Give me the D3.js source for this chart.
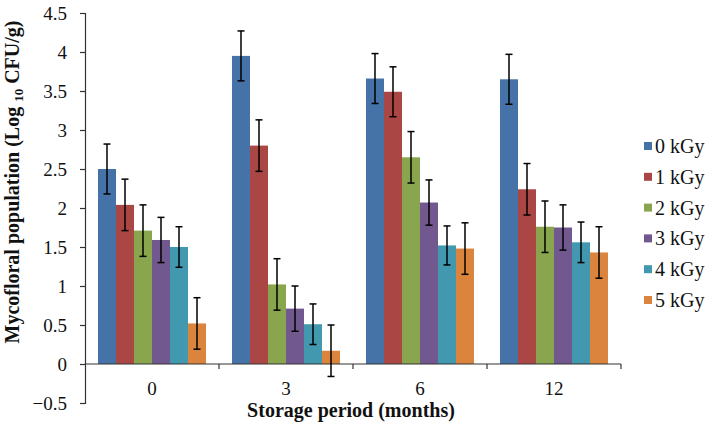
<!DOCTYPE html>
<html>
<head>
<meta charset="utf-8">
<script src="https://cdn.jsdelivr.net/npm/d3@7"></script>
<style>
  html, body { margin: 0; padding: 0; background: #fff; }
  svg { display: block; }
  svg text { font-family: "Liberation Serif", "Times New Roman", serif; }
</style>
</head>
<body>
<svg id="chart" width="709" height="427"></svg>
<script>
const categories = ["0", "3", "6", "12"];
const seriesNames = ["0 kGy", "1 kGy", "2 kGy", "3 kGy", "4 kGy", "5 kGy"];
const seriesColors = ["#4572A7", "#AA4643", "#89A54E", "#71588F", "#4198AF", "#DB843D"];
// values[series][category]
const values = [
  [2.50, 3.95, 3.66, 3.65],
  [2.04, 2.80, 3.49, 2.24],
  [1.71, 1.02, 2.65, 1.76],
  [1.59, 0.71, 2.07, 1.75],
  [1.50, 0.51, 1.52, 1.56],
  [0.52, 0.17, 1.48, 1.43]
];
const errors = [
  [0.32, 0.32, 0.32, 0.32],
  [0.33, 0.33, 0.32, 0.33],
  [0.33, 0.33, 0.33, 0.33],
  [0.29, 0.29, 0.29, 0.29],
  [0.26, 0.26, 0.25, 0.26],
  [0.33, 0.33, 0.33, 0.33]
];
const yTicks = [-0.5, 0, 0.5, 1, 1.5, 2, 2.5, 3, 3.5, 4, 4.5];
const yTickLabels = ["\u22120.5", "0", "0.5", "1", "1.5", "2", "2.5", "3", "3.5", "4", "4.5"];
const xTitle = "Storage period (months)";

const FONT = "Liberation Serif, Times New Roman, serif";
const svg = d3.select("#chart");
const plot = { left: 85, right: 621, top: 13, bottom: 403 };

const y = d3.scaleLinear().domain([-0.5, 4.5]).range([plot.bottom, plot.top]);
const x0 = d3.scaleBand().domain(categories).range([plot.left, plot.right])
  .paddingInner(0.194).paddingOuter(0.097);
const x1 = d3.scaleBand().domain(seriesNames).range([0, x0.bandwidth()]);
const step = x0.step();

const data = [];
seriesNames.forEach((s, si) => categories.forEach((c, ci) => {
  data.push({ s, si, c, v: values[si][ci], e: errors[si][ci] });
}));

// Bars
svg.append("g").selectAll("rect").data(data).join("rect")
  .attr("x", d => x0(d.c) + x1(d.s))
  .attr("width", x1.bandwidth())
  .attr("y", d => y(Math.max(0, d.v)))
  .attr("height", d => Math.abs(y(d.v) - y(0)))
  .attr("fill", d => seriesColors[d.si]);

// Y axis
const yAxis = d3.axisLeft(y).tickValues(yTicks).tickSize(5).tickPadding(13)
  .tickFormat((d, i) => yTickLabels[i]);
const gy = svg.append("g").attr("transform", `translate(${plot.left},0)`).call(yAxis)
  .attr("font-family", FONT).attr("font-size", 19);
gy.select(".domain").attr("stroke", "#333").attr("stroke-width", 1.2);
gy.selectAll(".tick line").attr("stroke", "#333").attr("stroke-width", 1.2);
gy.selectAll(".tick text").attr("font-size", 19).attr("fill", "#111")
  .attr("font-family", FONT);

// X axis at zero
const xAxisLine = svg.append("g").attr("transform", `translate(0,${y(0)})`);
xAxisLine.append("line").attr("x1", plot.left).attr("x2", plot.right)
  .attr("stroke", "#333").attr("stroke-width", 1.2);
const boundaries = categories.map(c => x0(c) - x0.paddingOuter() * step + step);
xAxisLine.selectAll("line.tk").data(boundaries).join("line").attr("class", "tk")
  .attr("x1", d => d).attr("x2", d => d).attr("y1", 0).attr("y2", 5)
  .attr("stroke", "#333").attr("stroke-width", 1.2);
xAxisLine.selectAll("text").data(categories).join("text")
  .attr("x", c => x0(c) + x0.bandwidth() / 2)
  .attr("y", 31)
  .attr("text-anchor", "middle")
  .attr("font-family", FONT)
  .attr("font-size", 19).attr("fill", "#111")
  .text(c => c);

// Error bars
const eb = svg.append("g").attr("stroke", "#000").attr("stroke-width", 1.5);
const cap = 3.5;
data.forEach(d => {
  const cx = x0(d.c) + x1(d.s) + x1.bandwidth() / 2;
  const yt = y(d.v + d.e), yb = y(d.v - d.e);
  eb.append("line").attr("x1", cx).attr("x2", cx).attr("y1", yt).attr("y2", yb);
  eb.append("line").attr("x1", cx - cap).attr("x2", cx + cap).attr("y1", yt).attr("y2", yt);
  eb.append("line").attr("x1", cx - cap).attr("x2", cx + cap).attr("y1", yb).attr("y2", yb);
});

// Axis titles
svg.append("text")
  .attr("x", (plot.left + plot.right) / 2 - 2).attr("y", 417)
  .attr("text-anchor", "middle").attr("font-size", 20).attr("font-weight", "bold")
  .attr("font-family", FONT)
  .attr("fill", "#111").text(xTitle);

const ytitle = svg.append("text")
  .attr("transform", "translate(19,182) rotate(-90)")
  .attr("text-anchor", "middle").attr("font-size", 20).attr("font-weight", "bold")
  .attr("font-family", FONT)
  .attr("fill", "#111");
ytitle.append("tspan").text("Mycofloral population (Log ");
ytitle.append("tspan").attr("font-size", 13).attr("dy", 4).text("10");
ytitle.append("tspan").attr("dy", -4).text(" CFU/g)");

// Legend
const legend = svg.append("g").attr("transform", "translate(644,146)");
const li = legend.selectAll("g").data(seriesNames).join("g")
  .attr("transform", (d, i) => `translate(0,${i * 30.8})`);
li.append("rect").attr("x", 0).attr("y", -4).attr("width", 8).attr("height", 8)
  .attr("fill", (d, i) => seriesColors[i]);
li.append("text").attr("x", 11).attr("y", 0).attr("dy", "0.35em")
  .attr("font-family", FONT)
  .attr("font-size", 20).attr("fill", "#111").text(d => d);
</script>
</body>
</html>
